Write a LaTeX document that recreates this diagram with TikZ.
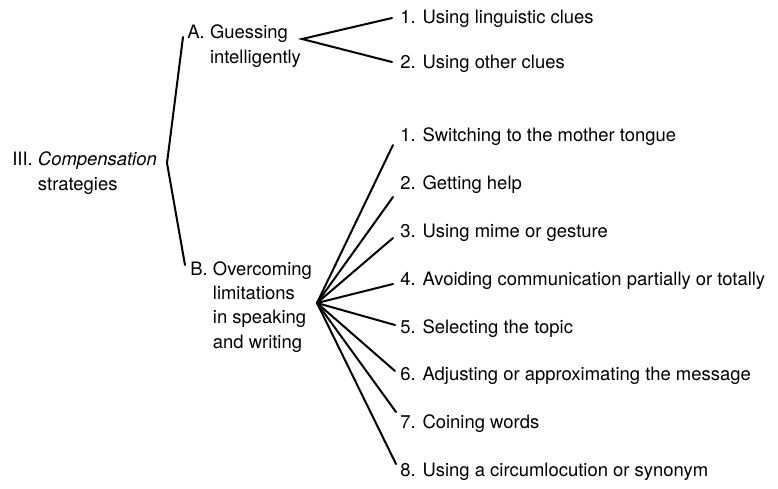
\documentclass[tikz,border=0pt]{standalone}
\usepackage{fontspec}
\setmainfont{TeX Gyre Heros}
\usetikzlibrary{calc}

\begin{document}
\begin{tikzpicture}[x=0.02cm, y=-0.02cm,
		txt/.style={inner sep=0, anchor=base west, align=left, font=\fontsize{10.5}{13.7}\selectfont},
		branch/.style={line width=0.4mm, line cap=round}]
			%%%%% START %%%%%
			
			\useasboundingbox (0, 0) rectangle (778, 488);
			
			% base of a two-line node is the last line
			\node[txt] (root) at (12, 190) {III. \textit{Compensation}\\\phantom{III. }strategies};
			\node[txt] (guess) at (187, 63) {A. Guessing\\\phantom{A. }intelligently};
			\node[txt] (over) at (190, 348) {B. Overcoming\\\phantom{B. }limitations\\\phantom{B. }in speaking\\\phantom{B. }and writing};
			
			\node[txt] (a1) at (400, 23) {1. Using linguistic clues};
			\node[txt] (a2) at (400, 68) {2. Using other clues};
			
			\node[txt] (b1) at (400, 141) {1. Switching to the mother tongue};
			\node[txt] (b2) at (400, 189) {2. Getting help};
			\node[txt] (b3) at (400, 237) {3. Using mime or gesture};
			\node[txt] (b4) at (400, 285) {4. Avoiding communication partially or totally};
			\node[txt] (b5) at (400, 333) {5. Selecting the topic};
			\node[txt] (b6) at (400, 380) {6. Adjusting or approximating the message};
			\node[txt] (b7) at (400, 428) {7. Coining words};
			\node[txt] (b8) at (400, 476) {8. Using a circumlocution or synonym};
			
			% forks
			\coordinate (rootfork) at (167, 163);
			\coordinate (guessfork) at (302, 39);
			\coordinate (overfork) at (317, 303);
			
			\draw[branch] (183, 37) -- (rootfork) -- (185, 265);
			
			\draw[branch] (392, 18) -- (guessfork) -- (392, 62);
			
			\draw[branch] (overfork) -- (393, 145);
			\draw[branch] (overfork) -- (393, 197);
			\draw[branch] (overfork) -- (393, 238);
			\draw[branch] (overfork) -- (393, 284);
			\draw[branch] (overfork) -- (395, 325);
			\draw[branch] (overfork) -- (395, 371);
			\draw[branch] (overfork) -- (396, 412);
			\draw[branch] (overfork) -- (396, 464);
			
			%%%%% END %%%%%
		\end{tikzpicture}
\end{document}
